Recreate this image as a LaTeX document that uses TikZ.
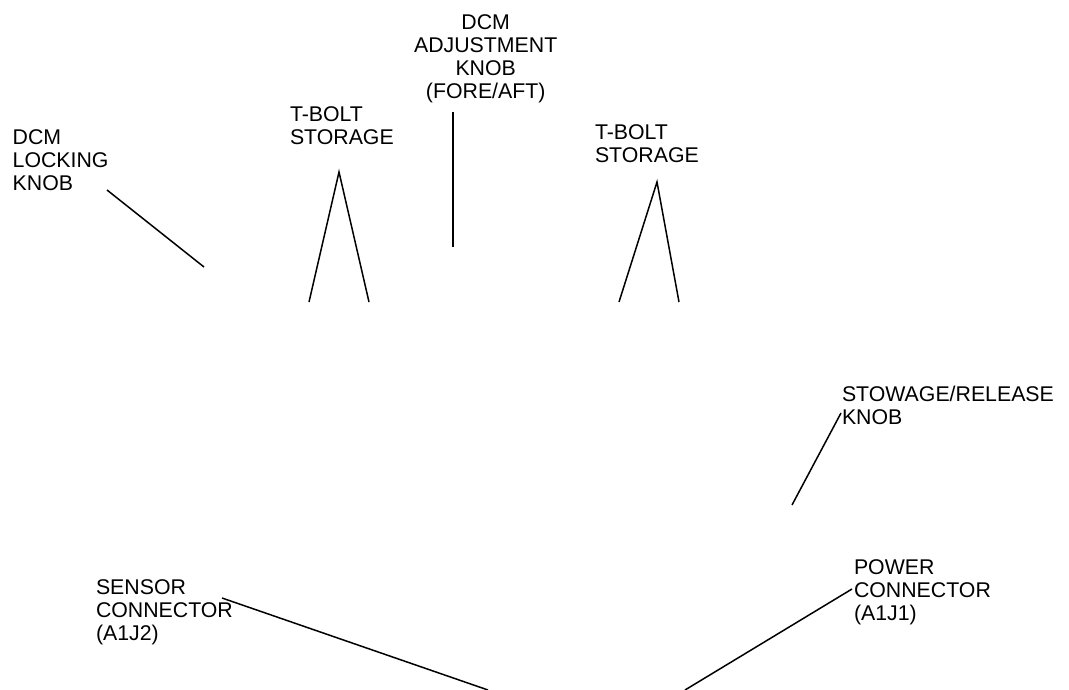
\documentclass[tikz,border=0pt]{standalone}
\usepackage{fontspec}
\setmainfont{Liberation Sans}
\begin{document}
\begin{tikzpicture}[x=1pt,y=-1pt,
  lbl/.style={inner sep=0pt,outer sep=0pt,anchor=north west,align=left,font=\fontsize{21.3}{23}\selectfont},
  lblc/.style={inner sep=0pt,outer sep=0pt,anchor=north,align=center,font=\fontsize{21.3}{23}\selectfont},
  leader/.style={line width=1.5pt,line cap=butt,line join=miter}]
\useasboundingbox (0,0) rectangle (1069,690);
% labels
\node[lbl] (lock) at (12.7,130) {DCM\\LOCKING\\KNOB};
\node[lbl] (tb1) at (290,107) {T-BOLT\\STORAGE};
\node[lblc] (adj) at (485.7,15) {DCM\\ADJUSTMENT\\KNOB\\(FORE/AFT)};
\node[lbl] (tb2) at (595,125) {T-BOLT\\STORAGE};
\node[lbl] (stow) at (842,386) {STOWAGE/RELEASE\\KNOB};
\node[lbl] (sens) at (96,580) {SENSOR\\CONNECTOR\\(A1J2)};
\node[lbl] (pow) at (854,560) {POWER\\CONNECTOR\\(A1J1)};
% leader end points
\coordinate (lockA) at (107,190);
\coordinate (lockB) at (204,267);
\coordinate (tb1top) at (339,172);
\coordinate (tb1L) at (309,302);
\coordinate (tb1R) at (369,302);
\coordinate (adjA) at (453,112);
\coordinate (adjB) at (453,247);
\coordinate (tb2top) at (657,182);
\coordinate (tb2L) at (619,302);
\coordinate (tb2R) at (679,302);
\coordinate (stowA) at (841,413);
\coordinate (stowB) at (792,505);
\coordinate (sensA) at (222,598);
\coordinate (sensB) at (488,690);
\coordinate (powA) at (852,589);
\coordinate (powB) at (685,690);
% leaders
\draw[leader] (lockA) -- (lockB);
\draw[leader] (tb1L) -- (tb1top) -- (tb1R);
\draw[leader] (adjA) -- (adjB);
\draw[leader] (tb2L) -- (tb2top) -- (tb2R);
\draw[leader] (stowA) -- (stowB);
\draw[leader] (sensA) -- (sensB);
\draw[leader] (powA) -- (powB);
\end{tikzpicture}
\end{document}
